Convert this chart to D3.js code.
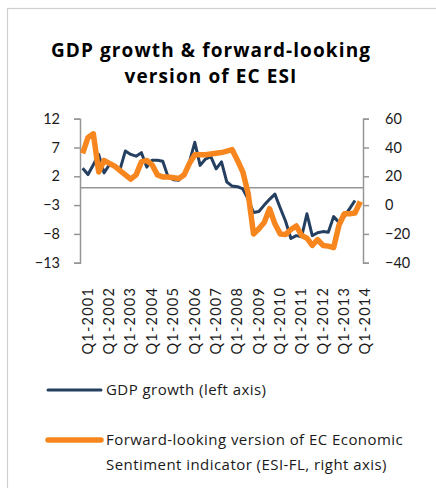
<!DOCTYPE html>
<html>
<head>
<meta charset="utf-8">
<script src="https://cdn.jsdelivr.net/npm/d3@7"></script>
<style>
  html, body { margin: 0; padding: 0; background: #fff; }
  svg { display: block; font-family: Lato, "Liberation Sans", sans-serif; }
</style>
</head>
<body>
<svg id="chart" width="436" height="488"></svg>
<script>
// Quarterly series, Q1-2001 onwards
const years = d3.range(2001, 2015);
const quarterNames = ["Q1", "Q2", "Q3", "Q4"];

// GDP growth, % (left axis), Q1-2001 .. Q4-2013
const gdpGrowth = [
  3.4, 2.3, 4.0, 5.8, 2.6, 4.0, 3.8, 3.2,
  6.4, 5.8, 5.5, 6.1, 3.6, 4.8, 4.8, 4.6,
  1.9, 1.4, 1.3, 2.3, 4.5, 7.9, 3.9, 5.0,
  5.4, 3.3, 4.5, 1.0, 0.3, 0.2, -0.2, -2.0,
  -4.3, -4.1, -3.0, -2.0, -1.1, -3.5, -5.8, -8.8,
  -8.3, -8.5, -4.5, -8.3, -7.8, -7.6, -7.7, -5.0,
  -6.0, -5.0, -3.6, -2.2
];

// Forward-looking ESI (right axis), Q1-2001 .. Q1-2014
const esiForward = [
  36, 47, 49.5, 23, 31, 29, 27, 24,
  21, 18, 21, 30, 31, 28, 21, 19.5,
  19.5, 19, 18.5, 21, 29, 35, 35, 35,
  35.5, 36, 36.5, 37.5, 38.5, 31, 23, 8,
  -20, -16.5, -12, -2.5, -13, -20, -20.5, -17,
  -14.5, -21, -23, -28, -24, -28, -28.5, -29.5,
  -14, -6, -6, -5.5, 2.5
];

const leftTicks = [12, 7, 2, -3, -8, -13];
const rightTicks = [60, 40, 20, 0, -20, -40];
const xTickLabels = ["Q1-2001", "Q1-2002", "Q1-2003", "Q1-2004", "Q1-2005", "Q1-2006", "Q1-2007",
                     "Q1-2008", "Q1-2009", "Q1-2010", "Q1-2011", "Q1-2012", "Q1-2013", "Q1-2014"];

const titleLines = ["GDP growth & forward-looking", "version of EC ESI"];
const legendItems = [
  { lines: ["GDP growth (left axis)"], color: "#243f60", width: 3 },
  { lines: ["Forward-looking version of EC Economic", "Sentiment indicator (ESI-FL, right axis)"], color: "#f7861e", width: 5.5 }
];

// Category list built from years and quarters, stopping at Q1-2014
const categories = [];
years.forEach(y => quarterNames.forEach(q => categories.push(q + "-" + y)));
categories.splice(categories.indexOf("Q1-2014") + 1);

const svg = d3.select("#chart");
const plot = { left: 80, right: 363, top: 118.7, bottom: 262.7 };

// Outer chart border
svg.append("rect")
  .attr("x", 7.5).attr("y", 8.5).attr("width", 440).attr("height", 490)
  .attr("fill", "none").attr("stroke", "#d0d0d0").attr("stroke-width", 1.2);

const x = d3.scaleBand().domain(categories).range([plot.left, plot.right]);
const xc = c => x(c) + x.bandwidth() / 2;
const yL = d3.scaleLinear().domain([-13, 12]).range([plot.bottom, plot.top]);
const yR = d3.scaleLinear().domain([-40, 60]).range([plot.bottom, plot.top]);

const axisColor = "#969696";
const labelColor = "#1a1a1a";

// Title
svg.append("g").selectAll("text").data(titleLines).join("text")
  .attr("x", 211).attr("y", (d, i) => 56.5 + i * 26)
  .attr("text-anchor", "middle")
  .attr("font-family", "'Open Sans', sans-serif")
  .attr("font-size", 19).attr("font-weight", 700)
  .attr("letter-spacing", 1.1)
  .attr("fill", "#000").text(d => d);

// Left axis
const gL = svg.append("g").attr("transform", `translate(${plot.left},0)`)
  .call(d3.axisLeft(yL).tickValues(leftTicks).tickSizeOuter(0).tickSize(6).tickPadding(14));
// Right axis
const gR = svg.append("g").attr("transform", `translate(${plot.right},0)`)
  .call(d3.axisRight(yR).tickValues(rightTicks).tickSizeOuter(0).tickSize(6).tickPadding(16));
[gL, gR].forEach(g => {
  g.select(".domain").attr("stroke", axisColor).attr("stroke-width", 1.5);
  g.selectAll(".tick line").attr("stroke", axisColor).attr("stroke-width", 1.5);
  g.selectAll(".tick text").attr("font-size", 14.5).attr("fill", labelColor)
    .attr("font-family", "Lato, sans-serif");
});
gR.selectAll(".tick text").attr("text-anchor", "start");

// Category axis along zero of the left scale
svg.append("line")
  .attr("x1", plot.left).attr("x2", plot.right)
  .attr("y1", yL(0)).attr("y2", yL(0))
  .attr("stroke", axisColor).attr("stroke-width", 1.5);

// Rotated category labels below the plot
svg.append("g").selectAll("text").data(xTickLabels).join("text")
  .attr("transform", d => `translate(${xc(d) + 5},287) rotate(-90)`)
  .attr("text-anchor", "end").attr("dy", "0.35em")
  .attr("font-size", 14.5).attr("letter-spacing", 1.2)
  .attr("fill", labelColor).text(d => d);

// Series lines
const gdpLine = d3.line().x((d, i) => xc(categories[i])).y(d => yL(d));
const esiLine = d3.line().x((d, i) => xc(categories[i])).y(d => yR(d));

svg.append("path").datum(gdpGrowth)
  .attr("d", gdpLine).attr("fill", "none")
  .attr("stroke", legendItems[0].color).attr("stroke-width", legendItems[0].width)
  .attr("stroke-linejoin", "round");
svg.append("path").datum(esiForward)
  .attr("d", esiLine).attr("fill", "none")
  .attr("stroke", legendItems[1].color).attr("stroke-width", legendItems[1].width)
  .attr("stroke-linejoin", "round");

// Legend
const legendY = [390, 440];
const lg = svg.append("g").selectAll("g").data(legendItems).join("g")
  .attr("transform", (d, i) => `translate(0,${legendY[i]})`);
lg.append("line")
  .attr("x1", 48).attr("x2", 101).attr("y1", 0).attr("y2", 0)
  .attr("stroke", d => d.color).attr("stroke-width", d => d.width)
  .attr("stroke-linecap", "round");
lg.each(function (d) {
  d3.select(this).selectAll("text").data(d.lines).join("text")
    .attr("x", 106).attr("y", (t, i) => i * 25).attr("dy", "0.35em")
    .attr("font-family", "'Open Sans', sans-serif")
    .attr("font-size", 15).attr("letter-spacing", 0.45)
    .attr("fill", labelColor).text(t => t);
});
</script>
</body>
</html>
